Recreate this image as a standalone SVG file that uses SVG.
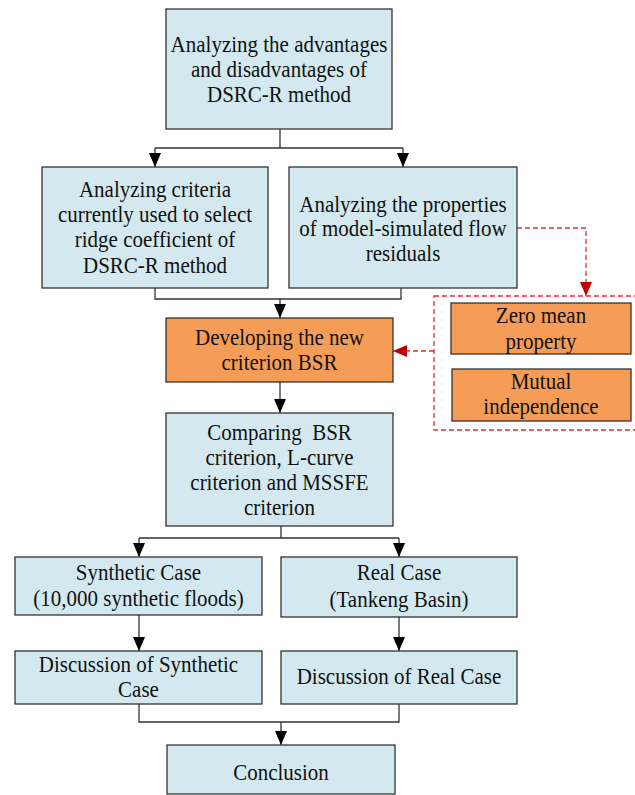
<svg xmlns="http://www.w3.org/2000/svg" width="635" height="795" viewBox="0 0 635 795">
<defs>
<style>
.b{fill:#D3E9EF;stroke:#333;stroke-width:1.3}
.o{fill:#F59D56;stroke:#333;stroke-width:1.3}
.t{font-family:'Liberation Serif','Times New Roman',Times,serif;font-size:21px;fill:#111;text-anchor:middle}
.c{fill:none;stroke:#333;stroke-width:1.3}
.r{fill:none;stroke:#E03030;stroke-width:1.3;stroke-dasharray:5,3}
</style>
<marker id="ah" viewBox="0 0 14 12" refX="14" refY="6" markerWidth="14" markerHeight="12" markerUnits="userSpaceOnUse" orient="auto"><path d="M0,0 L14,6 L0,12 z" fill="#000"/></marker>
<marker id="rh" viewBox="0 0 14 12" refX="14" refY="6" markerWidth="14" markerHeight="12" markerUnits="userSpaceOnUse" orient="auto"><path d="M0,0 L14,6 L0,12 z" fill="#C00000"/></marker>
</defs>
<g id="connectors">
<path class="c" d="M280 129 V148 M155 148 H403"/>
<path class="c" d="M155 148 V167" marker-end="url(#ah)"/>
<path class="c" d="M403 148 V167" marker-end="url(#ah)"/>
<path class="c" d="M155 288 V299 H401 V288"/>
<path class="c" d="M280 299 V318" marker-end="url(#ah)"/>
<path class="c" d="M280 382 V413" marker-end="url(#ah)"/>
<path class="c" d="M281 526 V538 M139 538 H399"/>
<path class="c" d="M139 538 V557" marker-end="url(#ah)"/>
<path class="c" d="M399 538 V557" marker-end="url(#ah)"/>
<path class="c" d="M139 615 V651" marker-end="url(#ah)"/>
<path class="c" d="M399 617 V651" marker-end="url(#ah)"/>
<path class="c" d="M139 704 V722 H399 V704"/>
<path class="c" d="M281 722 V745" marker-end="url(#ah)"/>
<path class="r" d="M517 228 H586 V296" marker-end="url(#rh)"/>
<path class="r" d="M434 351 H393" marker-end="url(#rh)"/>
</g>
<g id="group-properties">
<rect class="r" x="434" y="296" width="215" height="134"/>
</g>
<g class="t">
<g id="n1"><rect class="b" x="166" y="9" width="226" height="120"/>
<text transform="translate(279,52) scale(1,1.12)">Analyzing the advantages</text><text transform="translate(279,77) scale(1,1.12)">and disadvantages of</text><text transform="translate(279,102) scale(1,1.12)">DSRC-R method</text></g>
<g id="n2"><rect class="b" x="42" y="167" width="226" height="121"/>
<text transform="translate(155,197) scale(1,1.12)">Analyzing criteria</text><text transform="translate(155,222) scale(1,1.12)">currently used to select</text><text transform="translate(155,247) scale(1,1.12)">ridge coefficient of</text><text transform="translate(155,273) scale(1,1.12)">DSRC-R method</text></g>
<g id="n3"><rect class="b" x="289" y="167" width="228" height="121"/>
<text transform="translate(403,212) scale(1,1.12)">Analyzing the properties</text><text transform="translate(403,236) scale(1,1.12)">of model-simulated flow</text><text transform="translate(403,261) scale(1,1.12)">residuals</text></g>
<g id="n4"><rect class="o" x="166" y="318" width="227" height="64"/>
<text transform="translate(279.5,345) scale(1,1.12)">Developing the new</text><text transform="translate(279.5,370) scale(1,1.12)">criterion BSR</text></g>
<g id="n5"><rect class="o" x="451" y="303" width="180" height="51"/>
<text transform="translate(541,323) scale(1,1.12)">Zero mean</text><text transform="translate(541,349) scale(1,1.12)">property</text></g>
<g id="n6"><rect class="o" x="452" y="369" width="179" height="52"/>
<text transform="translate(541,389) scale(1,1.12)">Mutual</text><text transform="translate(541,414) scale(1,1.12)">independence</text></g>
<g id="n7"><rect class="b" x="166" y="413" width="227" height="113"/>
<text transform="translate(279.5,440) scale(1,1.12)" xml:space="preserve">Comparing  BSR</text><text transform="translate(279.5,465) scale(1,1.12)">criterion, L-curve</text><text transform="translate(279.5,490) scale(1,1.12)">criterion and MSSFE</text><text transform="translate(279.5,515) scale(1,1.12)">criterion</text></g>
<g id="n8"><rect class="b" x="15" y="557" width="247" height="58"/>
<text transform="translate(138.5,580) scale(1,1.12)">Synthetic Case</text><text transform="translate(138.5,606) scale(1,1.12)">(10,000 synthetic floods)</text></g>
<g id="n9"><rect class="b" x="281" y="557" width="236" height="60"/>
<text transform="translate(399,580) scale(1,1.12)">Real Case</text><text transform="translate(399,607) scale(1,1.12)">(Tankeng Basin)</text></g>
<g id="n10"><rect class="b" x="15" y="651" width="247" height="53"/>
<text transform="translate(138.5,672) scale(1,1.12)">Discussion of Synthetic</text><text transform="translate(138.5,697) scale(1,1.12)">Case</text></g>
<g id="n11"><rect class="b" x="281" y="651" width="236" height="53"/>
<text transform="translate(399,684) scale(1,1.12)">Discussion of Real Case</text></g>
<g id="n12"><rect class="b" x="167" y="745" width="228" height="49"/>
<text transform="translate(281,780) scale(1,1.12)">Conclusion</text></g>
</g>
</svg>
